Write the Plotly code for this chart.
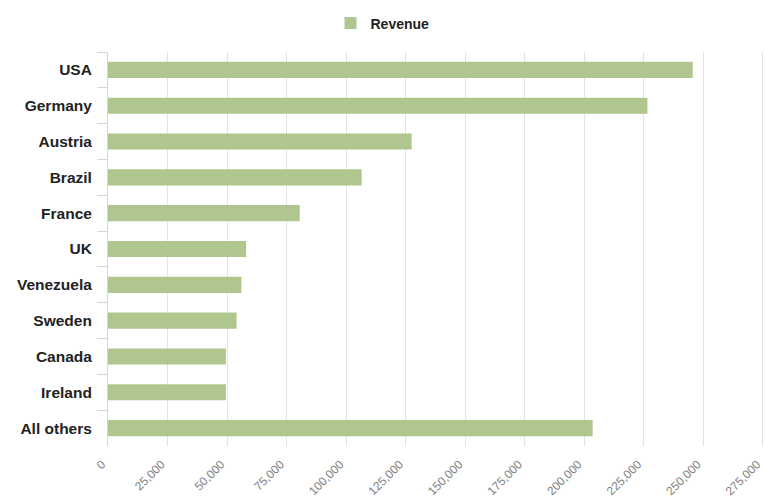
import plotly.graph_objects as go

countries = ["USA", "Germany", "Austria", "Brazil", "France", "UK",
             "Venezuela", "Sweden", "Canada", "Ireland", "All others"]
revenue = [245500, 226500, 127500, 106500, 80500, 58000,
           56000, 54000, 49500, 49500, 203500]
x_ticks = list(range(0, 275001, 25000))
x_tick_labels = [f"{v:,}" for v in x_ticks]

fig = go.Figure()
fig.add_trace(go.Bar(
    x=revenue, y=countries, orientation="h", name="Revenue",
    marker=dict(color="#afc78f", line=dict(width=0)),
))

fig.update_layout(
    width=765, height=499,
    margin=dict(l=108, r=0, t=52, b=53, autoexpand=False),
    plot_bgcolor="white", paper_bgcolor="white",
    font=dict(family="Liberation Sans, Arial, sans-serif", color="#222"),
    bargap=0.55,
    showlegend=True,
    legend=dict(orientation="h", x=0.5, xanchor="center", xref="container",
                y=0.985, yref="container", yanchor="top",
                font=dict(size=14, weight="bold", color="#222"),
                itemwidth=30),
    xaxis=dict(range=[0, 275850], tickvals=x_ticks, ticktext=x_tick_labels,
               tickangle=-45, tickfont=dict(size=12, color="#808080"),
               showgrid=True, gridcolor="#e3e3e3", gridwidth=1,
               zeroline=False, showline=False, ticks="", ticklabelstandoff=8,
               ticklabelshift=-6,
               ticklabeloverflow="allow", automargin=False),
    yaxis=dict(autorange="reversed", tickfont=dict(size=15.5, weight="bold", color="#222"),
               showline=True, linecolor="#cdd6e3", linewidth=1,
               ticks="outside", tickson="boundaries", ticklen=10, tickcolor="#cdd6e3",
               showgrid=False, ticklabelstandoff=12, automargin=False),
)

fig.write_html("out.html")
